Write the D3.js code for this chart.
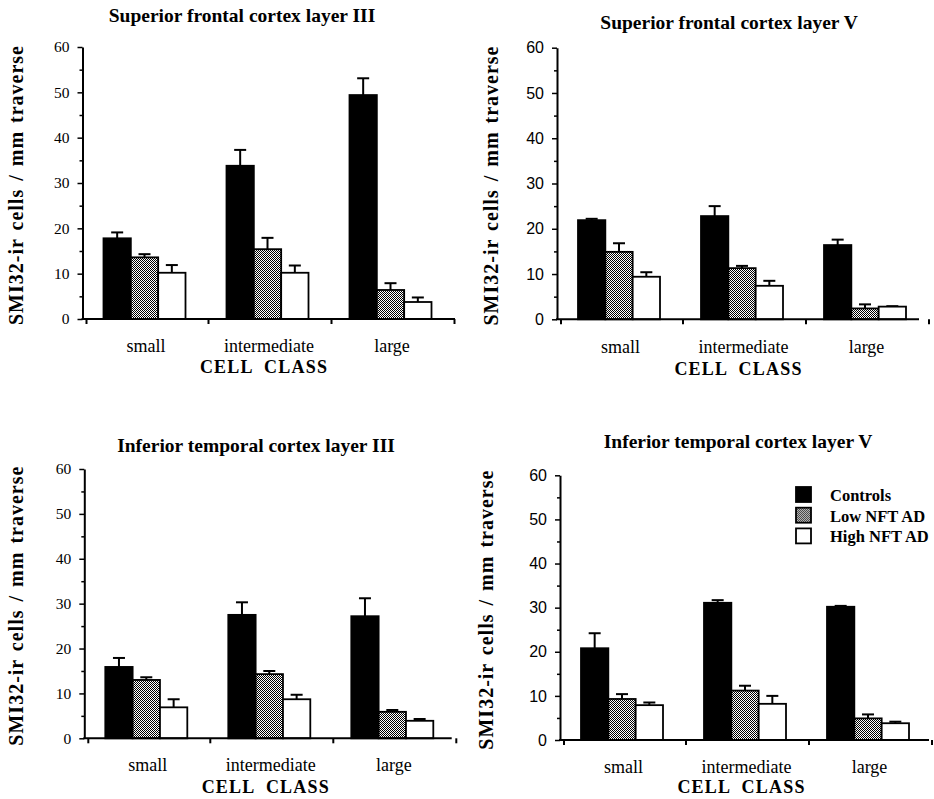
<!DOCTYPE html>
<html>
<head>
<meta charset="utf-8">
<script src="https://cdn.jsdelivr.net/npm/d3@7"></script>
<style>
  body { margin: 0; background: #fff; }
  svg { display: block; }
</style>
</head>
<body>
<div id="app"></div>
<script>
const classes = ['small', 'intermediate', 'large']
const groups = ['Controls', 'Low NFT AD', 'High NFT AD']
const titles = [
  'Superior frontal cortex layer III',
  'Superior frontal cortex layer V',
  'Inferior temporal cortex layer III',
  'Inferior temporal cortex layer V',
]
const yTicks = [0, 10, 20, 30, 40, 50, 60]
const yMinor = [5, 15, 25, 35, 45, 55]

// rows follow groups, columns follow classes
const sfc3Means = [[17.8, 33.8, 49.4], [13.6, 15.4, 6.4], [10.2, 10.2, 3.75]]
const sfc3Sem = [[1.3, 3.5, 3.7], [0.7, 2.5, 1.5], [1.7, 1.6, 1.0]]
const sfc5Means = [[21.9, 22.8, 16.4], [14.9, 11.3, 2.4], [9.4, 7.4, 2.8]]
const sfc5Sem = [[0.3, 2.2, 1.2], [1.9, 0.5, 0.9], [1.0, 1.1, 0.1]]
const itc3Means = [[15.9, 27.5, 27.2], [13.0, 14.3, 5.9], [6.9, 8.7, 3.9]]
const itc3Sem = [[2.0, 2.8, 4.0], [0.6, 0.7, 0.4], [1.8, 1.0, 0.4]]
const itc5Means = [[20.8, 31.1, 30.2], [9.3, 11.2, 4.9], [7.9, 8.2, 3.8]]
const itc5Sem = [[3.4, 0.6, 0.2], [1.1, 1.1, 0.9], [0.6, 1.8, 0.35]]

const serif = '"Liberation Serif", "DejaVu Serif", serif'
const sans = '"Liberation Sans", Arial, sans-serif'

const panels = [
  {title: titles[0], means: sfc3Means, sems: sfc3Sem, left: 82.5, top: 47, bottom: 319, right: 455,
    titleX: 242, titleY: 22, ylabX: 16, catY: 352, classY: 373, tickFont: serif},
  {title: titles[1], means: sfc5Means, sems: sfc5Sem, left: 557, top: 47.7, bottom: 319.3, right: 919,
    titleX: 729, titleY: 29, ylabX: 491, catY: 353, classY: 375, tickFont: sans},
  {title: titles[2], means: itc3Means, sems: itc3Sem, left: 84.3, top: 469, bottom: 738.3, right: 451.7,
    titleX: 256, titleY: 452, ylabX: 16, catY: 771, classY: 793, tickFont: serif},
  {title: titles[3], means: itc5Means, sems: itc5Sem, left: 560, top: 475.3, bottom: 740, right: 929,
    titleX: 738, titleY: 448, ylabX: 486, catY: 773, classY: 793, tickFont: sans, legend: true},
]

const fills = ['#000', 'url(#dither)', '#fff']

const svg = d3.select('#app').append('svg')
  .attr('width', 934)
  .attr('height', 799)
svg.append('rect').attr('width', 934).attr('height', 799).attr('fill', '#fff')

const pat = svg.append('defs').append('pattern')
  .attr('id', 'dither')
  .attr('width', 2).attr('height', 2)
  .attr('patternUnits', 'userSpaceOnUse')
pat.append('rect').attr('width', 2).attr('height', 2).attr('fill', '#fff')
pat.append('rect').attr('width', 1).attr('height', 1).attr('fill', '#000')
pat.append('rect').attr('x', 1).attr('y', 1).attr('width', 1).attr('height', 1).attr('fill', '#000')

const drawPanel = (p) => {
  const g = svg.append('g')
  const y = d3.scaleLinear().domain([0, 60]).range([p.bottom, p.top])
  const x0 = d3.scaleBand().domain(classes).range([p.left, p.left + 369])
  const x1 = d3.scaleBand().domain(groups).range([21, 103])

  // bars + error bars
  groups.forEach((grp, gi) => {
    const cells = classes.map((c, ci) => ({c, v: p.means[gi][ci], e: p.sems[gi][ci]}))
    const sel = g.append('g').selectAll('g').data(cells).join('g')
    sel.append('line')
      .attr('x1', (d) => x0(d.c) + x1(grp) + x1.bandwidth() / 2)
      .attr('x2', (d) => x0(d.c) + x1(grp) + x1.bandwidth() / 2)
      .attr('y1', (d) => y(d.v))
      .attr('y2', (d) => y(d.v + d.e))
      .attr('stroke', '#000').attr('stroke-width', 2)
    sel.append('line')
      .attr('x1', (d) => x0(d.c) + x1(grp) + x1.bandwidth() / 2 - 6)
      .attr('x2', (d) => x0(d.c) + x1(grp) + x1.bandwidth() / 2 + 6)
      .attr('y1', (d) => y(d.v + d.e))
      .attr('y2', (d) => y(d.v + d.e))
      .attr('stroke', '#000').attr('stroke-width', 2)
    sel.append('rect')
      .attr('x', (d) => x0(d.c) + x1(grp))
      .attr('y', (d) => y(d.v))
      .attr('width', x1.bandwidth())
      .attr('height', (d) => y(0) - y(d.v))
      .attr('fill', fills[gi])
      .attr('stroke', '#000').attr('stroke-width', 1.8)
  })

  // y axis
  const ya = g.append('g')
    .attr('transform', `translate(${p.left},0)`)
    .call(d3.axisLeft(y).tickValues(yTicks).tickSize(5).tickSizeOuter(0).tickPadding(8))
  ya.select('.domain').attr('stroke-width', 2)
  ya.selectAll('.tick line').attr('stroke-width', 1.5)
  ya.selectAll('.tick text')
    .attr('font-family', p.tickFont)
    .attr('font-size', p.tickFont === sans ? 16 : 15.5)
    .attr('fill', '#000')
  const ym = g.append('g')
    .attr('transform', `translate(${p.left},0)`)
    .call(d3.axisLeft(y).tickValues(yMinor).tickSize(3).tickSizeOuter(0).tickFormat(''))
  ym.select('.domain').remove()
  ym.selectAll('.tick line').attr('stroke-width', 1.5)

  // x axis
  g.append('line')
    .attr('x1', p.left - 1).attr('x2', p.right)
    .attr('y1', y(0)).attr('y2', y(0))
    .attr('stroke', '#000').attr('stroke-width', 2)
  const xt = [p.left + 4].concat(classes.map((c) => x0(c) + x0.bandwidth() + 3))
  g.append('g').selectAll('line').data(xt).join('line')
    .attr('x1', (d) => d).attr('x2', (d) => d)
    .attr('y1', y(0)).attr('y2', y(0) + 5)
    .attr('stroke', '#000').attr('stroke-width', 2)

  g.append('g').selectAll('text').data(classes).join('text')
    .attr('x', (d) => x0(d) + x0.bandwidth() / 2 + 2)
    .attr('y', p.catY)
    .attr('text-anchor', 'middle')
    .attr('font-family', serif)
    .attr('font-size', 18)
    .text((d) => d)

  g.append('text')
    .attr('x', x0('intermediate') + x0.bandwidth() / 2 - 3)
    .attr('y', p.classY)
    .attr('text-anchor', 'middle')
    .attr('font-family', serif)
    .attr('font-weight', 'bold')
    .attr('font-size', 18)
    .attr('letter-spacing', 1.2)
    .attr('xml:space', 'preserve')
    .text('CELL  CLASS')

  g.append('text')
    .attr('x', p.titleX)
    .attr('y', p.titleY)
    .attr('text-anchor', 'middle')
    .attr('font-family', serif)
    .attr('font-weight', 'bold')
    .attr('font-size', 19.5)
    .text(p.title)

  g.append('text')
    .attr('transform', `translate(${p.ylabX + 7},${(p.top + p.bottom) / 2 + 2}) rotate(-90)`)
    .attr('text-anchor', 'middle')
    .attr('font-family', serif)
    .attr('font-weight', 'bold')
    .attr('font-size', 20)
    .attr('letter-spacing', 1)
    .attr('word-spacing', 2)
    .text('SMI32-ir cells / mm traverse')

  if (p.legend) {
    const lg = g.append('g').attr('transform', 'translate(796,487)')
    const row = lg.selectAll('g').data(groups).join('g')
      .attr('transform', (d, i) => `translate(0,${i * 20.7})`)
    row.append('rect')
      .attr('width', 15).attr('height', 15)
      .attr('fill', (d, i) => fills[i])
      .attr('stroke', '#000').attr('stroke-width', 1.8)
    row.append('text')
      .attr('x', 34).attr('y', 14)
      .attr('font-family', serif)
      .attr('font-weight', 'bold')
      .attr('font-size', 16.5)
      .text((d) => d)
  }
}

panels.forEach(drawPanel)
</script>
</body>
</html>
